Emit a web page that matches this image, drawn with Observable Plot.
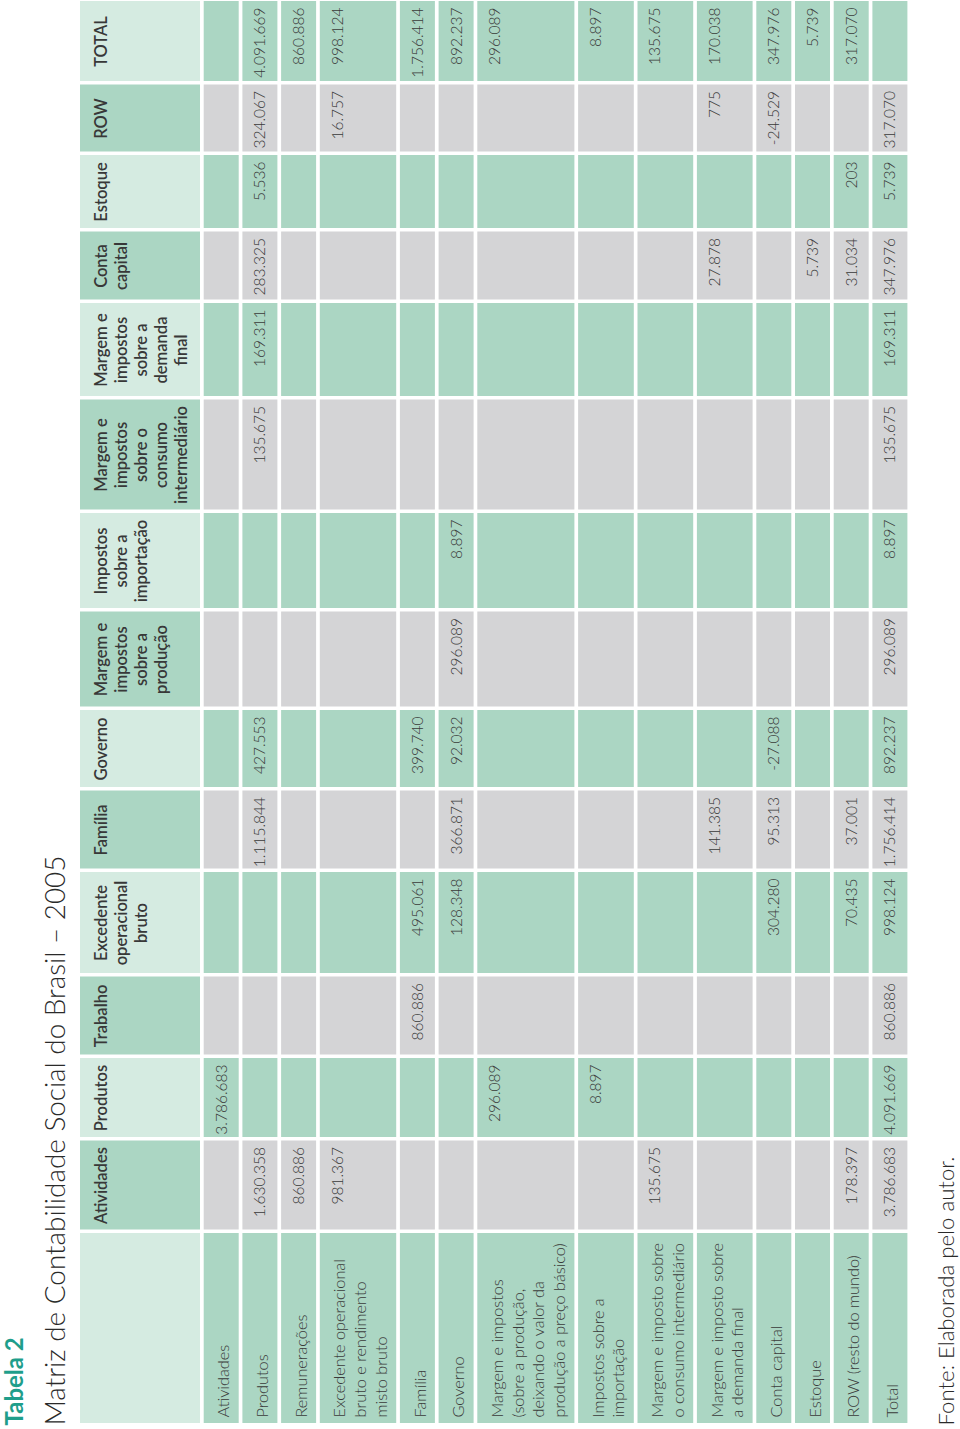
<!DOCTYPE html>
<html>
<head>
<meta charset="utf-8">
<script src="https://cdn.jsdelivr.net/npm/d3@7"></script>
<script src="https://cdn.jsdelivr.net/npm/@observablehq/plot@0.6"></script>
<style>
  html, body { margin: 0; padding: 0; background: #ffffff; }
  #chart svg { display: block; }
</style>
</head>
<body>
<div id="chart"></div>
<script>
// ---------- DATA ----------
const tableLabel = "Tabela 2";
const tableTitle = "Matriz de Contabilidade Social do Brasil – 2005";
const sourceNote = "Fonte: Elaborada pelo autor.";

const columnLabels = [
  "",
  "Atividades",
  "Produtos",
  "Trabalho",
  "Excedente\noperacional\nbruto",
  "Família",
  "Governo",
  "Margem e\nimpostos\nsobre a\nprodução",
  "Impostos\nsobre a\nimportação",
  "Margem e\nimpostos\nsobre o\nconsumo\nintermediário",
  "Margem e\nimpostos\nsobre a\ndemanda\nfinal",
  "Conta\ncapital",
  "Estoque",
  "ROW",
  "TOTAL"
];

const rowLabels = [
  "Atividades",
  "Produtos",
  "Remunerações",
  "Excedente operacional\nbruto e rendimento\nmisto bruto",
  "Família",
  "Governo",
  "Margem e impostos\n(sobre a produção,\ndeixando o valor da\nprodução a preço básico)",
  "Impostos sobre a\nimportação",
  "Margem e imposto sobre\no consumo intermediário",
  "Margem e imposto sobre\na demanda final",
  "Conta capital",
  "Estoque",
  "ROW (resto do mundo)",
  "Total"
];

// columns: Atividades, Produtos, Trabalho, Excedente, Família, Governo,
// Margem prod., Impostos import., Margem interm., Margem dem. final,
// Conta capital, Estoque, ROW, TOTAL
const values = [
  [null, 3786683, null, null, null, null, null, null, null, null, null, null, null, null],
  [1630358, null, null, null, 1115844, 427553, null, null, 135675, 169311, 283325, 5536, 324067, 4091669],
  [860886, null, null, null, null, null, null, null, null, null, null, null, null, 860886],
  [981367, null, null, null, null, null, null, null, null, null, null, null, 16757, 998124],
  [null, null, 860886, 495061, null, 399740, null, null, null, null, null, null, null, 1756414],
  [null, null, null, 128348, 366871, 92032, 296089, 8897, null, null, null, null, null, 892237],
  [null, 296089, null, null, null, null, null, null, null, null, null, null, null, 296089],
  [null, 8897, null, null, null, null, null, null, null, null, null, null, null, 8897],
  [135675, null, null, null, null, null, null, null, null, null, null, null, null, 135675],
  [null, null, null, null, 141385, null, null, null, null, null, 27878, null, 775, 170038],
  [null, null, null, 304280, 95313, -27088, null, null, null, null, null, null, -24529, 347976],
  [null, null, null, null, null, null, null, null, null, null, 5739, null, null, 5739],
  [178397, null, null, 70435, 37001, null, null, null, null, null, 31034, 203, null, 317070],
  [3786683, 4091669, 860886, 998124, 1756414, 892237, 296089, 8897, 135675, 169311, 347976, 5739, 317070, null]
];

// ---------- LAYOUT (page is rotated: table rows run left→right, columns bottom→top) ----------
const layout = {
  tableLeft: 80,
  headerDepth: 120,
  rowBase: 35,
  lineStep: 20.7,
  rowGap: 3.7,
  tableBottom: 1423,
  colSizes: [190, 89, 79, 78, 101, 78, 77, 95, 95, 110, 93, 68, 73, 67, 80],
  colGap: 3.5
};
const palette = {
  green: "#abd6c3",
  light: "#d5ebe1",
  grey: "#d4d4d6",
  teal: "#1f9e8b",
  text: "#3b3b3b"
};

const fmt = d3.formatLocale({decimal: ",", thousands: ".", grouping: [3], currency: ["R$", ""], minus: "-"}).format(",d");

// row bands (image x)
const rowBands = [];
let xPos = layout.tableLeft;
rowBands.push({x1: xPos, x2: xPos + layout.headerDepth});
xPos += layout.headerDepth + layout.rowGap;
rowLabels.forEach(label => {
  const n = label.split("\n").length;
  const s = layout.rowBase + (n - 1) * layout.lineStep;
  rowBands.push({x1: xPos, x2: xPos + s});
  xPos += s + layout.rowGap;
});

// column bands (image y, first column at the bottom)
const colBands = [];
let yPos = layout.tableBottom;
layout.colSizes.forEach(s => {
  colBands.push({y1: yPos - s, y2: yPos});
  yPos -= s + layout.colGap;
});

const cells = [];
rowBands.forEach((r, i) => colBands.forEach((c, j) => {
  let fill;
  if (i === 0) fill = (j % 2 === 1) ? palette.green : palette.light;
  else fill = (j === 0 || j % 2 === 0) ? palette.green : palette.grey;
  cells.push({x1: r.x1, x2: r.x2, y1: c.y1, y2: c.y2, fill});
}));

const headerText = columnLabels
  .map((t, j) => ({t, x: rowBands[0].x1 + 12.6, y: (colBands[j].y1 + colBands[j].y2) / 2}))
  .filter(d => d.t);

const rowText = rowLabels.map((t, i) => ({
  t,
  x: (rowBands[i + 1].x1 + rowBands[i + 1].x2) / 2 + 1,
  y: colBands[0].y2 - 6
}));

const valueText = [];
values.forEach((row, i) => row.forEach((v, j) => {
  if (v == null) return;
  valueText.push({t: fmt(v), x: rowBands[i + 1].x1 + 17.5, y: colBands[j + 1].y1 + 6});
}));

const chart = Plot.plot({
  width: 960,
  height: 1429,
  margin: 0,
  style: {fontFamily: "Lato, 'Open Sans', sans-serif", background: "#ffffff"},
  x: {domain: [0, 960], range: [0, 960], axis: null},
  y: {domain: [0, 1429], range: [0, 1429], axis: null},
  color: {type: "identity"},
  marks: [
    Plot.rect(cells, {x1: "x1", x2: "x2", y1: "y1", y2: "y2", fill: "fill"}),
    Plot.text(headerText, {
      x: "x", y: "y", text: "t", rotate: -90,
      textAnchor: "middle", lineAnchor: "top", lineHeight: 1.21,
      fontSize: 16.5, fontWeight: 600, fill: "#383838"
    }),
    Plot.text(rowText, {
      x: "x", y: "y", text: "t", rotate: -90,
      textAnchor: "start", lineAnchor: "middle", lineHeight: 1.27,
      fontSize: 16.3, fontWeight: 300, fill: "#3a3a3a"
    }),
    Plot.text(valueText, {
      x: "x", y: "y", text: "t", rotate: -90,
      textAnchor: "end", lineAnchor: "middle",
      fontSize: 15.5, fontWeight: 300, fill: "#3a3a3a"
    }),
    Plot.text([tableLabel], {
      frameAnchor: "bottom-left", text: d => d, rotate: -90,
      textAnchor: "start", lineAnchor: "bottom", dx: 22, dy: -4,
      fontSize: 24, fontWeight: 700, fill: palette.teal
    }),
    Plot.text([tableTitle], {
      frameAnchor: "bottom-left", text: d => d, rotate: -90,
      textAnchor: "start", lineAnchor: "bottom", dx: 64, dy: -4,
      fontSize: 27.9, fontWeight: 300, fill: "#2a2a2a"
    }),
    Plot.text([sourceNote], {
      frameAnchor: "bottom-left", text: d => d, rotate: -90,
      textAnchor: "start", lineAnchor: "bottom", dx: 953, dy: -4,
      fontSize: 22.2, fontWeight: 300, fill: "#2a2a2a"
    })
  ]
});
document.getElementById("chart").appendChild(chart);
</script>
</body>
</html>
